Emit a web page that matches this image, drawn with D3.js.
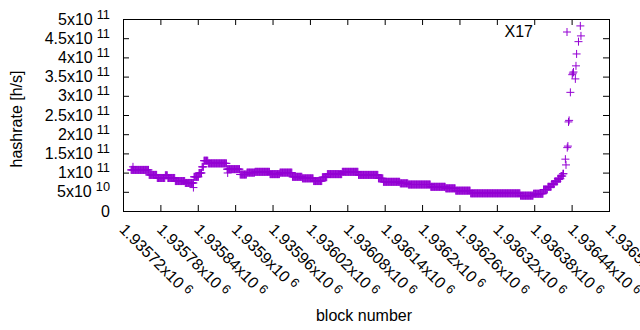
<!DOCTYPE html>
<html>
<head>
<meta charset="utf-8">
<script src="https://cdn.jsdelivr.net/npm/d3@7"></script>
<style>
  body { margin: 0; background: #fff; }
  text { font-family: "Liberation Sans", Arial, sans-serif; fill: #000; }
</style>
</head>
<body>
<script>
// plateau starts (block number) and hashrate on each plateau
var segBlocks = [1935733, 1935762, 1935775, 1935788, 1935792, 1935804, 1935820, 1935834, 1935842, 1935847,
    1935850, 1935857, 1935887, 1935908, 1935919, 1935932, 1935956, 1935972, 1935992, 1936008,
    1936026, 1936040, 1936048, 1936072, 1936098, 1936130, 1936138, 1936165, 1936178, 1936214,
    1936238, 1936254, 1936278, 1936358, 1936379, 1936395, 1936402, 1936408, 1936413, 1936418,
    1936423, 1936426];
var segRates = [1.07e11, 9.4e10, 8.6e10, 9.3e10, 8.6e10, 7.8e10, 7.3e10, 8.9e10, 9.9e10, 1.15e11,
    1.31e11, 1.24e11, 1.09e11, 9.5e10, 1.0e11, 1.02e11, 9.6e10, 1.0e11, 8.9e10, 8.5e10,
    7.8e10, 8.8e10, 9.6e10, 1.02e11, 9.4e10, 8.5e10, 7.6e10, 7.2e10, 6.9e10, 6.3e10,
    5.9e10, 5.3e10, 4.6e10, 4.0e10, 4.5e10, 5.6e10, 6.3e10, 7.0e10, 7.7e10, 8.4e10,
    9.1e10, 9.7e10];
var lastBlock = 1936428;

// single points: outliers and the spike at the end
var extraBlocks = [1935736, 1935833, 1935888, 1936430, 1936431, 1936433, 1936434, 1936435, 1936436,
    1936438, 1936441, 1936442, 1936443, 1936446, 1936447, 1936448, 1936451, 1936454, 1936455];
var extraRates = [1.15e11, 6.1e10, 9.9e10, 1.35e11, 1.2e11, 1.65e11, 1.69e11, 2.32e11, 2.36e11,
    3.09e11, 3.55e11, 3.59e11, 3.62e11, 3.44e11, 3.78e11, 4.09e11, 4.41e11, 4.82e11, 4.56e11];

var xTicks = [1935720, 1935780, 1935840, 1935900, 1935960, 1936020, 1936080, 1936140, 1936200,
    1936260, 1936320, 1936380, 1936440, 1936500];
var xTickText = ["1.93572x10", "1.93578x10", "1.93584x10", "1.9359x10", "1.93596x10", "1.93602x10",
    "1.93608x10", "1.93614x10", "1.9362x10", "1.93626x10", "1.93632x10", "1.93638x10",
    "1.93644x10", "1.9365x10"];
var xTickExp = ["6", "6", "6", "6", "6", "6", "6", "6", "6", "6", "6", "6", "6", "6"];

var yTicks = [0, 5e10, 1e11, 1.5e11, 2e11, 2.5e11, 3e11, 3.5e11, 4e11, 4.5e11, 5e11];
var yTickText = ["0", "5x10", "1x10", "1.5x10", "2x10", "2.5x10", "3x10", "3.5x10", "4x10", "4.5x10", "5x10"];
var yTickExp = ["", "10", "11", "11", "11", "11", "11", "11", "11", "11", "11"];

var seriesName = "X17";

function createVisualization() {
    var w = 640, h = 330;
    var pLeft = 123, pRight = 609, pTop = 19, pBottom = 211;
    var color = "#9400d3";
    var fs = 16, fsSup = 12.8;

    var points = [];
    segBlocks.forEach(function (b, i) {
        var end = i + 1 < segBlocks.length ? segBlocks[i + 1] : lastBlock;
        for (var k = b; k < end; k++) points.push({ block: k, rate: segRates[i] });
    });
    extraBlocks.forEach(function (b, i) {
        points.push({ block: b, rate: extraRates[i] });
    });

    var xScale = d3.scaleLinear().domain([1935720, 1936500]).range([pLeft, pRight]);
    var yScale = d3.scaleLinear().domain([0, 5e11]).range([pBottom, pTop]);

    var svg = d3.select("body").append("svg")
        .attr("width", w)
        .attr("height", h);

    // ticks (inside, mirrored on all four sides)
    function tickStyle(g) {
        g.select(".domain").remove();
        g.selectAll(".tick line").attr("stroke", "#000").attr("stroke-width", 1);
        g.selectAll(".tick text").remove();
    }
    svg.append("g").attr("transform", "translate(0," + pBottom + ")")
        .call(d3.axisBottom(xScale).tickValues(xTicks).tickSize(-6).tickFormat("")).call(tickStyle);
    svg.append("g").attr("transform", "translate(0," + pTop + ")")
        .call(d3.axisTop(xScale).tickValues(xTicks).tickSize(-6).tickFormat("")).call(tickStyle);
    svg.append("g").attr("transform", "translate(" + pLeft + ",0)")
        .call(d3.axisLeft(yScale).tickValues(yTicks).tickSize(-6).tickFormat("")).call(tickStyle);
    svg.append("g").attr("transform", "translate(" + pRight + ",0)")
        .call(d3.axisRight(yScale).tickValues(yTicks).tickSize(-6).tickFormat("")).call(tickStyle);

    svg.append("rect")
        .attr("x", pLeft + 0.5).attr("y", pTop + 0.5)
        .attr("width", pRight - pLeft).attr("height", pBottom - pTop)
        .attr("fill", "none").attr("stroke", "#000").attr("stroke-width", 1);

    // y tick labels
    var yl = svg.selectAll(".ylab").data(yTicks).enter().append("text")
        .attr("class", "ylab")
        .attr("text-anchor", "end")
        .attr("x", 110)
        .attr("y", function (d) { return yScale(d) + 5.5; })
        .attr("font-size", fs);
    yl.append("tspan").text(function (d, i) { return yTickText[i]; });
    yl.append("tspan")
        .attr("dx", function (d, i) { return yTickExp[i] ? 4 : 0; })
        .attr("dy", -6)
        .attr("font-size", fsSup)
        .text(function (d, i) { return yTickExp[i]; });

    // x tick labels, rotated
    var xl = svg.selectAll(".xlab").data(xTicks).enter().append("text")
        .attr("class", "xlab")
        .attr("transform", function (d) { return "translate(" + (xScale(d) - 4.5) + "," + 230.5 + ") rotate(45)"; })
        .attr("font-size", fs);
    xl.append("tspan").text(function (d, i) { return xTickText[i]; });
    xl.append("tspan")
        .attr("dx", 4)
        .attr("dy", -4)
        .attr("font-size", fsSup)
        .text(function (d, i) { return xTickExp[i]; });

    // axis titles
    svg.append("text")
        .attr("text-anchor", "middle")
        .attr("transform", "translate(22,119) rotate(-90)")
        .attr("font-size", fs)
        .text("hashrate [h/s]");

    svg.append("text")
        .attr("text-anchor", "middle")
        .attr("x", 364).attr("y", 321)
        .attr("font-size", fs)
        .text("block number");

    var plus = "M-4,0H4M0,-4V4";

    svg.append("g").selectAll("path")
        .data(points)
        .enter()
        .append("path")
        .attr("d", plus)
        .attr("transform", function (d) { return "translate(" + xScale(d.block) + "," + yScale(d.rate) + ")"; })
        .attr("fill", "none")
        .attr("stroke", color)
        .attr("stroke-width", 1);

    // key
    svg.append("text")
        .attr("text-anchor", "end")
        .attr("x", 533).attr("y", 37)
        .attr("font-size", fs)
        .text(seriesName);
    svg.append("path")
        .attr("d", plus)
        .attr("transform", "translate(567,32)")
        .attr("fill", "none")
        .attr("stroke", color)
        .attr("stroke-width", 1);
}

createVisualization();
</script>
</body>
</html>
